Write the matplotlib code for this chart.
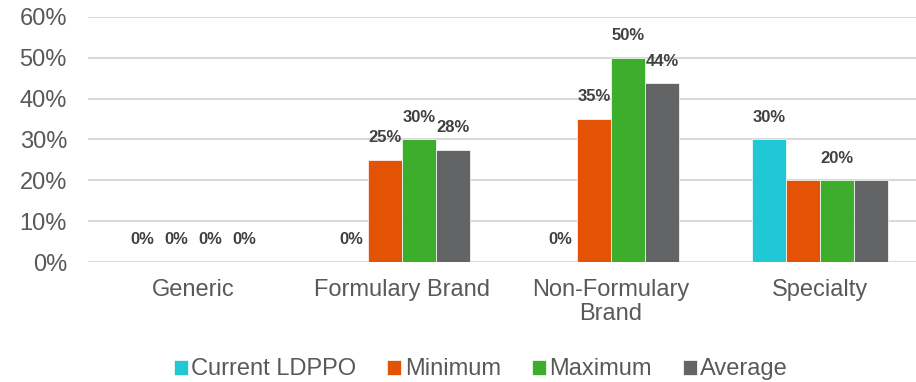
import numpy as np
import matplotlib.pyplot as plt
from matplotlib.ticker import PercentFormatter

plt.rcParams['font.family'] = ['Liberation Sans', 'DejaVu Sans']

categories = ['Generic', 'Formulary Brand', 'Non-Formulary\nBrand', 'Specialty']
series = ['Current LDPPO', 'Minimum', 'Maximum', 'Average']
current = [0.0, 0.0, 0.0, 0.30]
minimum = [0.0, 0.25, 0.35, 0.20]
maximum = [0.0, 0.30, 0.50, 0.20]
average = [0.0, 0.275, 0.4375, 0.20]
# data labels shown per series (Excel hid the overlapping ones in Specialty)
show_current = [True, True, True, True]
show_minimum = [True, True, True, False]
show_maximum = [True, True, True, True]
show_average = [True, True, True, False]
colors = ['#1FC8D4', '#E35205', '#3DAE2B', '#636466']

values = [current, minimum, maximum, average]
shows = [show_current, show_minimum, show_maximum, show_average]

fig = plt.figure(figsize=(9.16, 3.82), dpi=100)
# plot area runs slightly past the right edge, as in the original export
ax = fig.add_axes([0.0966, 0.314, 0.9127, 0.642])

x = np.arange(len(categories))
w = 0.163
for i, (vals, col) in enumerate(zip(values, colors)):
    pos = x + (i - 1.5) * w
    bars = ax.bar(pos, vals, width=w, color=col, label=series[i], zorder=3,
                  edgecolor='white', linewidth=0.5)
    for b, v, s in zip(bars, vals, shows[i]):
        if s:
            ax.annotate(f'{v:.0%}', (b.get_x() + b.get_width() / 2, v),
                        xytext=(0, 16), textcoords='offset points',
                        ha='center', va='center', fontsize=12,
                        fontweight='bold', color='#404040')

ax.set_xlim(-0.5, 3.5)
ax.set_ylim(0, 0.6)
ax.set_yticks(np.arange(0, 0.61, 0.1))
ax.yaxis.set_major_formatter(PercentFormatter(1.0, decimals=0))
ax.set_xticks(x)
ax.set_xticklabels(categories, linespacing=1.15)
ax.tick_params(axis='y', length=0, pad=15.5, labelsize=17, labelcolor='#595959')
ax.tick_params(axis='x', length=0, pad=12, labelsize=17, labelcolor='#595959')
ax.grid(axis='y', color='#D9D9D9', linewidth=1.5, zorder=0)
for s in ['top', 'right', 'left', 'bottom']:
    ax.spines[s].set_visible(False)

fig.legend(loc='center', bbox_to_anchor=(0.525, 0.033), ncol=4, frameon=False,
           fontsize=17, handlelength=0.6, handleheight=0.6, handletextpad=0.15,
           columnspacing=1.3, labelcolor='#595959')

fig.savefig('out.png', dpi=100)
